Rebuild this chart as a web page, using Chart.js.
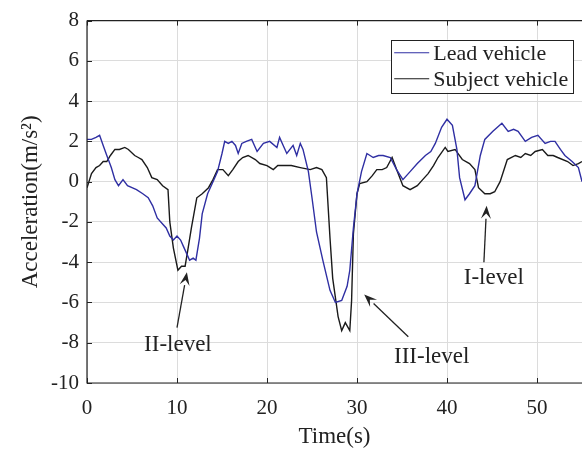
<!DOCTYPE html>
<html><head><meta charset="utf-8">
<script src="https://cdn.jsdelivr.net/npm/chart.js@4/dist/chart.umd.min.js"></script>
<style>html,body{margin:0;padding:0;background:#fff}#wrap{width:582px;height:452px}</style>
</head><body><div id="wrap"><canvas id="c" width="582" height="452"></canvas></div>
<script>
// ---- data ----
const seriesNames = ['Lead vehicle', 'Subject vehicle'];
const leadTime = [0,0.5,1.0,1.4,1.8,2.2,2.7,3.1,3.5,4.0,4.5,5.0,5.5,6.2,6.8,7.3,7.8,8.4,8.8,9.2,9.6,10.0,10.4,10.7,11.1,11.4,11.8,12.1,12.5,12.8,13.4,14.0,14.5,15.0,15.3,15.7,16.1,16.5,16.8,17.2,17.7,18.3,18.9,19.6,20.3,21.1,21.4,21.8,22.2,22.9,23.3,23.7,24.0,24.6,25.0,25.5,26.2,27.0,27.6,28.3,28.9,29.2,29.6,30.0,30.5,31.1,31.8,32.4,32.9,33.7,34.4,35.1,35.9,36.7,37.6,38.2,38.7,39.4,40.0,40.6,41.1,41.4,42.0,42.5,43.1,43.7,44.2,45.1,46.1,46.8,47.4,47.9,48.7,49.4,50.1,50.9,51.5,52.0,52.6,53.1,53.9,54.6,55.0];
const leadAcc = [2.1,2.1,2.2,2.3,1.8,1.3,0.7,0.1,-0.2,0.1,-0.2,-0.3,-0.4,-0.6,-0.8,-1.2,-1.8,-2.1,-2.3,-2.7,-2.9,-2.7,-2.9,-3.2,-3.6,-3.9,-3.8,-3.9,-2.8,-1.6,-0.6,0.0,0.5,1.4,2.0,1.9,2.0,1.8,1.4,1.9,2.0,2.1,1.5,1.9,2.0,1.7,2.2,1.8,1.4,1.8,1.3,1.9,1.6,0.5,-0.8,-2.5,-3.9,-5.4,-6.0,-5.9,-5.2,-4.4,-2.3,-0.6,0.5,1.4,1.2,1.3,1.3,1.2,0.6,0.1,0.5,0.9,1.3,1.5,1.9,2.7,3.1,2.8,1.6,0.2,-0.9,-0.6,-0.2,1.3,2.1,2.5,2.9,2.5,2.6,2.5,2.0,2.2,2.3,1.9,2.0,2.0,1.6,1.3,1.0,0.7,0.0];
const subjTime = [0,0.5,1.0,1.4,1.8,2.2,2.6,3.1,3.6,4.2,4.6,5.3,5.7,6.1,6.7,7.2,7.8,8.4,9.0,9.2,9.6,10.1,10.5,10.9,11.2,11.6,12.2,12.8,13.5,14.0,14.5,15.1,15.7,16.2,16.8,17.3,17.9,18.7,19.2,20.0,20.7,21.2,21.8,22.7,23.7,24.8,25.5,26.1,26.6,27.0,27.3,27.9,28.3,28.7,29.2,29.4,29.6,30.0,30.3,31.1,31.7,32.2,32.8,33.3,33.9,34.4,35.1,35.9,36.7,37.3,37.9,38.5,39.0,39.8,40.1,40.9,41.7,42.5,43.1,43.5,44.2,44.8,45.3,45.9,46.7,47.6,48.2,48.7,49.3,49.8,50.6,51.2,51.8,52.3,53.4,54.0,54.6,55.0];
const subjAcc = [-0.3,0.4,0.7,0.8,1.0,1.0,1.3,1.6,1.6,1.7,1.6,1.3,1.2,1.1,0.7,0.2,0.1,-0.2,-0.4,-2.0,-3.3,-4.4,-4.2,-4.2,-3.4,-2.3,-0.8,-0.6,-0.3,0.1,0.6,0.6,0.3,0.6,1.0,1.2,1.3,1.1,0.9,0.8,0.6,0.8,0.8,0.8,0.7,0.6,0.7,0.6,0.2,-2.8,-4.8,-6.7,-7.4,-7.0,-7.4,-5.9,-2.6,-0.6,-0.1,0.0,0.3,0.6,0.6,0.7,1.2,0.6,-0.2,-0.4,-0.2,0.1,0.4,0.8,1.2,1.7,1.5,1.6,1.1,0.9,0.6,-0.3,-0.6,-0.6,-0.5,0.0,1.1,1.3,1.2,1.4,1.3,1.5,1.6,1.3,1.3,1.2,1.0,0.8,0.9,1.0];
const xTicks = [0,10,20,30,40,50];
const yTicks = [-10,-8,-6,-4,-2,0,2,4,6,8];
const annLabels = ['II-level','III-level','I-level'];
const annTextX = [10.1, 38.3, 45.2];
const annTextY = [-8.1, -8.7, -4.8];
const annFromX = [10.0, 35.7, 44.1];
const annFromY = [-7.25, -7.7, -4.0];
const annToX = [11.1, 30.8, 44.4];
const annToY = [-4.5, -5.6, -1.2];

const FONT = '"Liberation Serif", "Times New Roman", serif';
const pts = (t, v) => t.map((x, i) => ({x, y: v[i]}));

const matlabFrame = {
  id: 'matlabFrame',
  afterDraw(chart) {
    const {ctx, chartArea: a, scales: {x, y}} = chart;
    ctx.save();
    ctx.strokeStyle = '#222';
    ctx.lineWidth = 1.2;
    ctx.beginPath();
    ctx.moveTo(a.left, a.top); ctx.lineTo(a.right + 2, a.top);
    ctx.moveTo(a.left, a.top); ctx.lineTo(a.left, a.bottom);
    ctx.lineTo(a.right + 2, a.bottom);
    ctx.stroke();
    ctx.lineWidth = 1;
    ctx.beginPath();
    xTicks.forEach(t => {
      const px = Math.round(x.getPixelForValue(t)) + 0.5;
      ctx.moveTo(px, a.bottom); ctx.lineTo(px, a.bottom - 5);
      ctx.moveTo(px, a.top); ctx.lineTo(px, a.top + 5);
    });
    yTicks.forEach(v => {
      const py = Math.round(y.getPixelForValue(v)) + 0.5;
      ctx.moveTo(a.left, py); ctx.lineTo(a.left + 5, py);
    });
    ctx.stroke();

    // annotations
    ctx.fillStyle = '#222';
    ctx.strokeStyle = '#222';
    ctx.font = '23px ' + FONT;
    ctx.textAlign = 'center';
    ctx.textBaseline = 'middle';
    annLabels.forEach((lab, i) => {
      ctx.fillText(lab, x.getPixelForValue(annTextX[i]), y.getPixelForValue(annTextY[i]));
      const x0 = x.getPixelForValue(annFromX[i]), y0 = y.getPixelForValue(annFromY[i]);
      const x1 = x.getPixelForValue(annToX[i]), y1 = y.getPixelForValue(annToY[i]);
      const ang = Math.atan2(y1 - y0, x1 - x0);
      const L = 13, W = 5;
      const bx = x1 - L * Math.cos(ang), by = y1 - L * Math.sin(ang);
      ctx.lineWidth = 1.3;
      ctx.beginPath(); ctx.moveTo(x0, y0); ctx.lineTo(bx, by); ctx.stroke();
      ctx.beginPath();
      ctx.moveTo(x1, y1);
      ctx.lineTo(bx + W * Math.sin(ang), by - W * Math.cos(ang));
      ctx.lineTo(x1 - 0.6 * L * Math.cos(ang), y1 - 0.6 * L * Math.sin(ang));
      ctx.lineTo(bx - W * Math.sin(ang), by + W * Math.cos(ang));
      ctx.closePath(); ctx.fill();
    });

    // legend box
    const lx = x.getPixelForValue(33.8), ly = y.getPixelForValue(7.05);
    const lw = 182, lh = 53;
    ctx.fillStyle = '#fff';
    ctx.fillRect(lx, ly, lw, lh);
    ctx.strokeStyle = '#222'; ctx.lineWidth = 1;
    ctx.strokeRect(Math.round(lx) + 0.5, Math.round(ly) + 0.5, lw, lh);
    ctx.textAlign = 'left';
    ctx.font = '22px ' + FONT;
    chart.data.datasets.forEach((ds, i) => {
      const yy = ly + 13 + i * 26;
      ctx.strokeStyle = ds.borderColor; ctx.lineWidth = 1.2;
      ctx.beginPath(); ctx.moveTo(lx + 3, yy); ctx.lineTo(lx + 38, yy); ctx.stroke();
      ctx.fillStyle = '#222';
      ctx.fillText(ds.label, lx + 42, yy + 1);
    });
    ctx.restore();
  }
};

new Chart(document.getElementById('c'), {
  type: 'line',
  data: {
    datasets: [
      {label: seriesNames[0], data: pts(leadTime, leadAcc), borderColor: '#2f2fa3', borderWidth: 1.4, pointRadius: 0, tension: 0, fill: false},
      {label: seriesNames[1], data: pts(subjTime, subjAcc), borderColor: '#1a1a1a', borderWidth: 1.4, pointRadius: 0, tension: 0, fill: false}
    ]
  },
  options: {
    responsive: false,
    animation: false,
    events: [],
    layout: {padding: {top: 16, right: 0, left: 0, bottom: 0}},
    plugins: {legend: {display: false}, tooltip: {enabled: false}},
    scales: {
      x: {
        type: 'linear', min: 0, max: 55,
        afterBuildTicks: s => { s.ticks = xTicks.map(v => ({value: v})); },
        afterFit: s => { s.height = 69; },
        grid: {color: '#dcdcdc', drawTicks: false, lineWidth: 1},
        border: {display: false},
        ticks: {font: {family: FONT, size: 21}, color: '#222', padding: 13, maxRotation: 0},
        title: {display: true, text: 'Time(s)', font: {family: FONT, size: 23}, color: '#222', padding: {top: 0, bottom: 1}}
      },
      y: {
        type: 'linear', min: -10, max: 8,
        afterBuildTicks: s => { s.ticks = yTicks.map(v => ({value: v})); },
        afterFit: s => { s.width = 87; },
        grid: {color: '#dcdcdc', drawTicks: false, lineWidth: 1},
        border: {display: false},
        ticks: {font: {family: FONT, size: 21}, color: '#222', padding: 8},
        title: {display: true, text: 'Acceleration(m/s²)', font: {family: FONT, size: 23}, color: '#222', padding: {top: 17, bottom: 0}}
      }
    }
  },
  plugins: [matlabFrame]
});
</script>
</body></html>
